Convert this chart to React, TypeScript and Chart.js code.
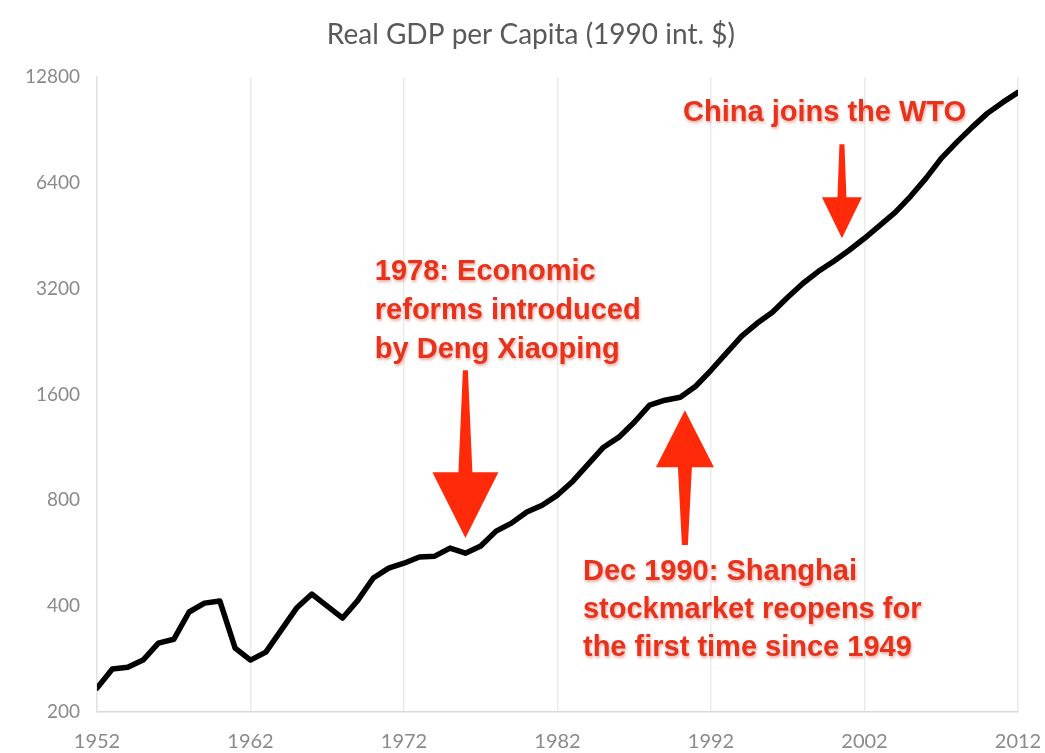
import React, { useEffect, useRef } from "react";
import { Chart, registerables } from "chart.js";

Chart.register(...registerables);

// ---- Data ----
const years: number[] = [
  1952, 1953, 1954, 1955, 1956, 1957, 1958, 1959, 1960, 1961,
  1962, 1963, 1964, 1965, 1966, 1967, 1968, 1969, 1970, 1971,
  1972, 1973, 1974, 1975, 1976, 1977, 1978, 1979, 1980, 1981,
  1982, 1983, 1984, 1985, 1986, 1987, 1988, 1989, 1990, 1991,
  1992, 1993, 1994, 1995, 1996, 1997, 1998, 1999, 2000, 2001,
  2002, 2003, 2004, 2005, 2006, 2007, 2008, 2009, 2010, 2011,
  2012,
];

const gdpPerCapita: number[] = [
  234, 265, 268, 281, 314, 322, 385, 408, 414, 304,
  281, 296, 342, 395, 433, 400, 370, 416, 481, 513,
  530, 552, 555, 585, 566, 593, 654, 689, 741, 775,
  828, 907, 1014, 1133, 1210, 1334, 1492, 1541, 1572, 1689,
  1875, 2097, 2344, 2551, 2742, 3025, 3315, 3585, 3829, 4115,
  4451, 4846, 5276, 5860, 6591, 7511, 8340, 9202, 10086, 10838,
  11576,
];

const yTickValues: number[] = [200, 400, 800, 1600, 3200, 6400, 12800];
const xTickYears: number[] = [1952, 1962, 1972, 1982, 1992, 2002, 2012];
const chartTitle = "Real GDP per Capita (1990 int. $)";

// ---- Annotations (anchored in data coordinates) ----
const noteDeng: string[] = ["1978: Economic", "reforms introduced", "by Deng Xiaoping"];
const noteShanghai: string[] = ["Dec 1990: Shanghai", "stockmarket reopens for", "the first time since 1949"];
const noteWto: string[] = ["China joins the WTO"];

const annotationTexts = [
  { lines: noteDeng, year: 1970.1, value: 3560, lineGap: 39 },
  { lines: noteShanghai, year: 1983.66, value: 500, lineGap: 38 },
  { lines: noteWto, year: 1990.18, value: 10090, lineGap: 38 },
];

const annotationArrows = [
  { year: 1976.0, tailValue: 1875, headValue: 962, tipValue: 625, tailW: 5, neckW: 14, headW: 66 },
  { year: 1990.3, tailValue: 597, headValue: 994, tipValue: 1444, tailW: 6, neckW: 14, headW: 58 },
  { year: 2000.53, tailValue: 8236, headValue: 5820, tipValue: 4451, tailW: 5, neckW: 9, headW: 40 },
];

const ARROW_COLOR = "#ff2a0a";
const NOTE_COLOR = "#e8321c";
const TITLE_FONT = "28px Lato, 'Open Sans', sans-serif";

const annotationPlugin = {
  id: "gdpAnnotations",
  afterDraw(chart: any) {
    const { ctx } = chart;
    // Title
    ctx.save();
    ctx.font = TITLE_FONT;
    ctx.fillStyle = "#595959";
    ctx.textAlign = "center";
    ctx.textBaseline = "middle";
    ctx.fillText(chartTitle, chart.width * 0.508, 35);
    ctx.restore();
  },
  afterDatasetsDraw(chart: any) {
    const { ctx } = chart;
    const xs = chart.scales.x;
    const ys = chart.scales.y;
    ctx.save();
    for (const a of annotationArrows) {
      const px = xs.getPixelForValue(a.year);
      const yTail = ys.getPixelForValue(a.tailValue);
      const yHead = ys.getPixelForValue(a.headValue);
      const yTip = ys.getPixelForValue(a.tipValue);
      ctx.fillStyle = ARROW_COLOR;
      ctx.beginPath();
      ctx.moveTo(px - a.tailW / 2, yTail);
      ctx.lineTo(px + a.tailW / 2, yTail);
      ctx.lineTo(px + a.neckW / 2, yHead);
      ctx.lineTo(px + a.headW / 2, yHead);
      ctx.lineTo(px, yTip);
      ctx.lineTo(px - a.headW / 2, yHead);
      ctx.lineTo(px - a.neckW / 2, yHead);
      ctx.closePath();
      ctx.fill();
    }
    ctx.font = 'bold 29px "Liberation Sans", Arial, sans-serif';
    ctx.textAlign = "left";
    ctx.textBaseline = "middle";
    ctx.shadowColor = "rgba(200, 70, 50, 0.45)";
    ctx.shadowBlur = 3;
    ctx.shadowOffsetX = 1;
    ctx.shadowOffsetY = 2;
    ctx.fillStyle = NOTE_COLOR;
    for (const t of annotationTexts) {
      const px = xs.getPixelForValue(t.year);
      const py = ys.getPixelForValue(t.value);
      t.lines.forEach((line, i) => {
        ctx.fillText(line, px, py + i * t.lineGap);
      });
    }
    ctx.restore();
  },
};

export default function App() {
  const canvasRef = useRef<HTMLCanvasElement | null>(null);

  useEffect(() => {
    const canvas = canvasRef.current;
    if (!canvas) return;
    const chart = new Chart(canvas, {
      type: "line",
      data: {
        datasets: [
          {
            label: "Real GDP per Capita",
            data: years.map((yr, i) => ({ x: yr, y: gdpPerCapita[i] })),
            borderColor: "#000000",
            borderWidth: 5.5,
            pointRadius: 0,
            tension: 0,
            borderJoinStyle: "round",
            borderCapStyle: "round",
          },
        ],
      },
      options: {
        responsive: false,
        animation: false,
        layout: { padding: { top: 77, right: 27, bottom: 0, left: 0 } },
        plugins: {
          legend: { display: false },
          tooltip: { enabled: false },
          title: { display: false },
        },
        scales: {
          x: {
            type: "linear",
            min: 1952,
            max: 2012,
            afterBuildTicks: (scale: any) => {
              scale.ticks = xTickYears.map((v) => ({ value: v }));
            },
            afterFit: (scale: any) => {
              scale.height = 41;
              scale.paddingLeft = 0;
              scale.paddingRight = 0;
            },
            ticks: {
              color: "#8a8a8a",
              font: { family: "Lato, 'Open Sans', sans-serif", size: 20 },
              padding: 18,
              maxRotation: 0,
              callback: (v: any) => String(v),
            },
            grid: { color: "#ebebeb", lineWidth: 1.5, drawTicks: false },
            border: { display: true, color: "#d9d9d9", width: 1.5 },
          },
          y: {
            type: "logarithmic",
            min: 200,
            max: 12800,
            afterBuildTicks: (scale: any) => {
              scale.ticks = yTickValues.map((v) => ({ value: v }));
            },
            afterFit: (scale: any) => {
              scale.width = 97;
              scale.paddingTop = 0;
              scale.paddingBottom = 0;
            },
            ticks: {
              color: "#8a8a8a",
              font: { family: "Lato, 'Open Sans', sans-serif", size: 19 },
              padding: 17,
              callback: (v: any) => String(v),
            },
            grid: { display: false, drawTicks: false },
            border: { display: true, color: "#e3e3e3", width: 1.5 },
          },
        },
      },
      plugins: [annotationPlugin],
    } as any);
    return () => chart.destroy();
  }, []);

  return (
    <div style={{ position: "fixed", left: 0, top: 0, width: 1045, height: 753, background: "#ffffff" }}>
      <canvas ref={canvasRef} width={1045} height={753} style={{ display: "block" }} />
    </div>
  );
}
